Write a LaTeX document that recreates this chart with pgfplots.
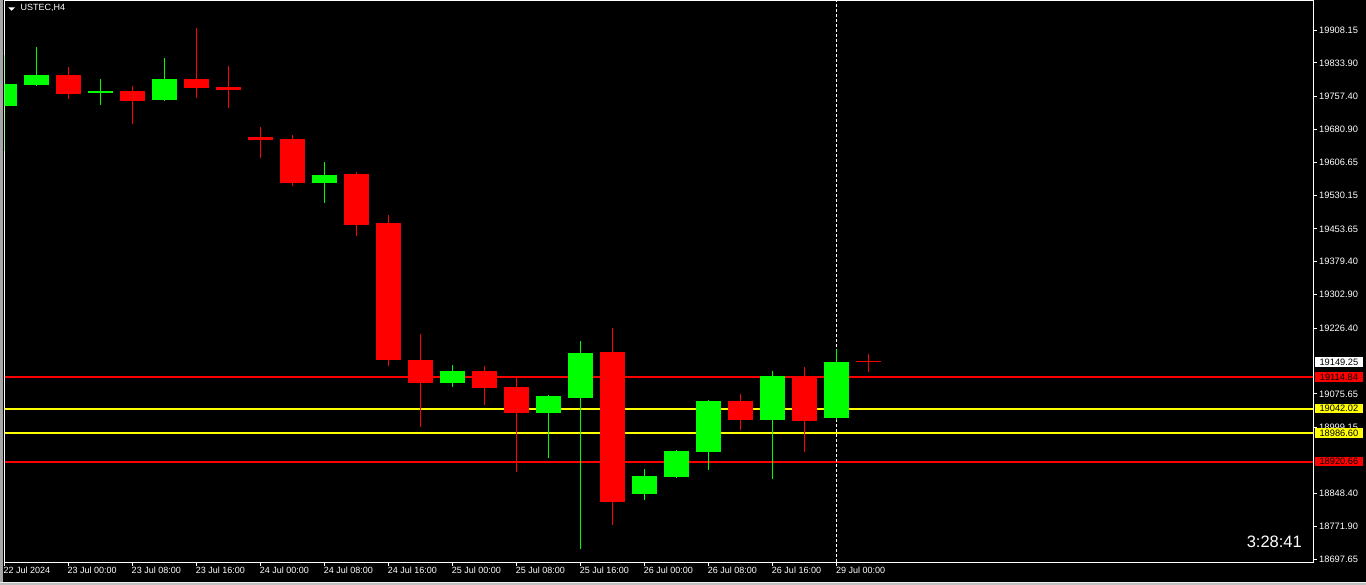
\documentclass[border=0pt]{standalone}
\usepackage{pgfplots}
\pgfplotsset{compat=1.18}
\usepackage{pgfplotstable}
\usepackage{fontspec}
\setmainfont{Liberation Sans}
\definecolor{cgreen}{RGB}{0,255,0}
\definecolor{cred}{RGB}{255,0,0}
\definecolor{cyellow}{RGB}{255,255,0}

% H4 candles: index (4h bars from 22 Jul 16:00), open, high, low, close
\pgfplotstableread{
x o h l c
0 19736.2 19853.1 19633.0 19786.6
1 19784.4 19869.2 19782.1 19807.3
3 19766.0 19798.1 19738.5 19770.6
5 19749.9 19844.0 19747.7 19798.1
10 19559.7 19607.8 19513.8 19578.0
14 19101.2 19142.4 19092.0 19128.7
17 19032.4 19073.0 18929.2 19071.4
18 19066.8 19197.5 18720.6 19170.0
20 18846.7 18904.0 18832.9 18887.9
21 18885.7 18947.6 18883.4 18945.3
22 18943.0 19062.2 18901.7 19059.9
24 19016.4 19128.7 18881.1 19117.2
26 19020.9 19179.1 19015.0 19149.25
}\upc

\pgfplotstableread{
x o h l c
2 19807.3 19825.6 19752.3 19763.7
4 19770.6 19782.1 19694.9 19747.7
6 19798.1 19912.7 19754.6 19777.5
7 19779.8 19827.9 19731.6 19772.9
8 19665.1 19688.1 19617.0 19658.3
9 19660.6 19669.7 19552.8 19559.7
11 19580.3 19584.9 19438.2 19463.4
12 19467.9 19486.3 19140.1 19153.9
13 19153.9 19213.5 19000.3 19101.2
15 19128.7 19140.1 19050.7 19089.7
16 19092.0 19112.6 18897.1 19032.4
19 19172.2 19227.3 18775.6 18828.3
23 19059.9 19075.9 18993.5 19016.4
25 19114.9 19137.8 18943.0 19014.0
27 19149.25 19167.6 19126.4 19149.25
}\downc

\begin{document}
\begin{tikzpicture}
\path[use as bounding box] (0,0) rectangle (1366bp,585bp);
\fill[black] (0,0) rectangle (1366bp,585bp);
\fill[gray!70] (0,0) rectangle (3bp,585bp);
\fill[gray!50] (0,0) rectangle (1366bp,2bp);
\draw[white!85!gray, line width=1bp] (0,2.5bp) -- (1366bp,2.5bp);

\begin{axis}[
  at={(4.5bp,23bp)}, anchor=south west,
  scale only axis, width=1308.5bp, height=561bp,
  xmin=0, xmax=40.875, ymin=18690.8, ymax=19975.7,
  clip mode=individual,
  axis line style={white, line width=1bp},
  axis background/.style={fill=black},
  tick align=outside,
  major tick length=4bp,
  tick style={white, line width=1bp},
  xtick pos=bottom, ytick pos=right,
  yticklabel pos=right,
  xtick={0,2,4,6,8,10,12,14,16,18,20,22,24,26},
  xticklabels={{22 Jul 2024},{23 Jul 00:00},{23 Jul 08:00},{23 Jul 16:00},{24 Jul 00:00},{24 Jul 08:00},{24 Jul 16:00},{25 Jul 00:00},{25 Jul 08:00},{25 Jul 16:00},{26 Jul 00:00},{26 Jul 08:00},{26 Jul 16:00},{29 Jul 00:00}},
  ytick={19908.15,19833.90,19757.40,19680.90,19606.65,19530.15,19453.65,19379.40,19302.90,19226.40,19075.65,18999.15,18848.40,18771.90,18697.65},
  yticklabels={19908.15,19833.90,19757.40,19680.90,19606.65,19530.15,19453.65,19379.40,19302.90,19226.40,19075.65,18999.15,18848.40,18771.90,18697.65},
  xticklabel style={font=\fontsize{9bp}{10bp}\selectfont, text=white, anchor=north west, inner sep=0pt, xshift=-1bp, yshift=-0.5bp},
  yticklabel style={font=\fontsize{9.3bp}{10bp}\selectfont, text=white, anchor=west, inner sep=0pt, xshift=2bp},
]
% support / resistance lines
\addplot[cred, line width=2bp, forget plot] coordinates {(0,19114.84) (40.875,19114.84)};
\addplot[cyellow, line width=2bp, forget plot] coordinates {(0,19042.02) (40.875,19042.02)};
\addplot[cyellow, line width=2bp, forget plot] coordinates {(0,18986.60) (40.875,18986.60)};
\addplot[cred, line width=2bp, forget plot] coordinates {(0,18920.66) (40.875,18920.66)};
% period separator
\addplot[white, line width=1bp, dash pattern=on 3bp off 2bp, forget plot] coordinates {(26,18690.8) (26,19975.7)};

% wicks
\addplot[draw=none, mark=none, forget plot,
  error bars/.cd, y dir=plus, y explicit, error mark=none,
  error bar style={draw=cgreen, line width=1bp}]
  table[x=x, y=l, y error expr=\thisrow{h}-\thisrow{l}] {\upc};
\addplot[draw=none, mark=none, forget plot,
  error bars/.cd, y dir=plus, y explicit, error mark=none,
  error bar style={draw=cred, line width=1bp}]
  table[x=x, y=l, y error expr=\thisrow{h}-\thisrow{l}] {\downc};
% bodies
\addplot[draw=none, mark=none, forget plot,
  error bars/.cd, y dir=plus, y explicit, error mark=none,
  error bar style={draw=cgreen, line width=25bp}]
  table[x=x, y expr={min(\thisrow{o},\thisrow{c})}, y error expr={max(abs(\thisrow{c}-\thisrow{o}),2.3)}] {\upc};
\addplot[draw=none, mark=none, forget plot,
  error bars/.cd, y dir=plus, y explicit, error mark=none,
  error bar style={draw=cred, line width=25bp}]
  table[x=x, y expr={min(\thisrow{o},\thisrow{c})}, y error expr={max(abs(\thisrow{c}-\thisrow{o}),2.3)}] {\downc};

% price boxes on the scale
\tikzset{pbox/.style={anchor=west, inner sep=0pt, minimum width=47.5bp, minimum height=9.5bp, text=black, font=\fontsize{9.3bp}{10bp}\selectfont, xshift=2bp}}
\node[pbox, fill=white] at (axis cs:40.875,19149.25) {19149.25};
\node[pbox, fill=cred] at (axis cs:40.875,19114.84) {19114.84};
\node[pbox, fill=cyellow] at (axis cs:40.875,19042.02) {19042.02};
\node[pbox, fill=cyellow] at (axis cs:40.875,18986.60) {18986.60};
\node[pbox, fill=cred] at (axis cs:40.875,18920.66) {18920.66};
\end{axis}

\fill[white] (8.3bp,577.7bp) -- (15bp,577.7bp) -- (11.65bp,574.2bp) -- cycle;
\node[anchor=west, inner sep=0pt, text=white, font=\fontsize{9bp}{10bp}\selectfont] at (20.5bp,576.7bp) {USTEC,H4};
\node[anchor=east, inner sep=0pt, text=white, font=\fontsize{16.5bp}{20bp}\selectfont] at (1302bp,43bp) {3:28:41};
\end{tikzpicture}
\end{document}
